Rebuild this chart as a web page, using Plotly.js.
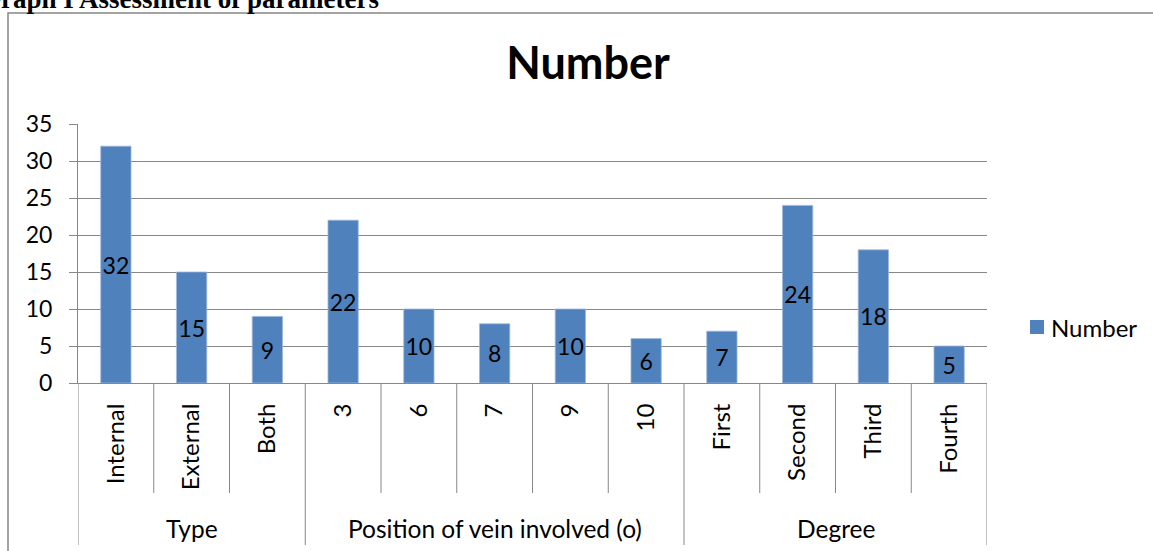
<!DOCTYPE html>
<html>
<head>
<meta charset="utf-8">
<script src="https://cdn.plot.ly/plotly-3.0.1.min.js"></script>
<style>
  html, body { margin: 0; padding: 0; background: #fff; }
  #chart { width: 1153px; height: 551px; }
</style>
</head>
<body>
<div id="chart"></div>
<script>
// ---- data ----
const categories = ["Internal", "External", "Both", "3", "6", "7", "9", "10", "First", "Second", "Third", "Fourth"];
const values = [32, 15, 9, 22, 10, 8, 10, 6, 7, 24, 18, 5];
const groupNames = ["Type", "Position of vein involved (o)", "Degree"];
const groupSizes = [3, 5, 4];
const seriesName = "Number";
const chartTitle = "Number";
const heading = "Graph I Assessment of parameters";

// ---- geometry helpers (pixels -> paper) ----
const W = 1153, H = 551;
const M = { l: 78, r: 166, t: 124, b: 168 };
const PW = W - M.l - M.r, PH = H - M.t - M.b;
const px = x => (x - M.l) / PW;
const py = y => (H - M.b - y) / PH;

const FONT = "Lato, 'Open Sans', sans-serif";
const GRAY = "#878787";
const BLUE = "#4F81BD";

const shapes = [];
const annotations = [];

// category separators
const groupEdges = [0];
groupSizes.forEach(s => groupEdges.push(groupEdges[groupEdges.length - 1] + s));
for (let i = 0; i <= categories.length; i++) {
  const isGroupEdge = groupEdges.includes(i);
  shapes.push({
    type: "line", xref: "x", yref: "paper",
    x0: i - 0.5, x1: i - 0.5, y0: 0, y1: isGroupEdge ? py(545) : py(493),
    line: { color: GRAY, width: 1 }
  });
}
// group labels
for (let g = 0; g < groupNames.length; g++) {
  const c = (groupEdges[g] + groupEdges[g + 1] - 1) / 2;
  annotations.push({
    xref: "x", yref: "paper", x: c, y: py(528),
    text: groupNames[g], showarrow: false, xanchor: "center", yanchor: "middle",
    font: { family: FONT, size: 24.5, color: "#000" }
  });
}
// outer border (chart area frame)
shapes.push({
  type: "path", xref: "paper", yref: "paper",
  path: `M ${px(8)} ${py(560)} L ${px(8)} ${py(13)} L ${px(1160)} ${py(13)}`,
  line: { color: GRAY, width: 1.5 }
});
// legend (drawn manually to keep plot area fixed)
shapes.push({
  type: "rect", xref: "paper", yref: "paper",
  x0: px(1030), x1: px(1044), y0: py(334), y1: py(320),
  fillcolor: BLUE, line: { width: 0 }
});
annotations.push({
  xref: "paper", yref: "paper", x: px(1049), y: py(327),
  text: seriesName, showarrow: false, xanchor: "left", yanchor: "middle",
  font: { family: FONT, size: 24, color: "#000" }
});
// document heading (cut off at top)
annotations.push({
  xref: "paper", yref: "paper", x: px(381), y: py(16),
  text: "<b>" + heading + "</b>", showarrow: false, xanchor: "right", yanchor: "bottom",
  font: { family: "'Liberation Serif', 'Times New Roman', serif", size: 27, color: "#000" }
});

const trace = {
  type: "bar",
  name: seriesName,
  x: categories,
  y: values,
  width: 0.4,
  marker: { color: BLUE, line: { color: "#9fb9dc", width: 0.8 } },
  text: values.map(String),
  textposition: "inside",
  insidetextanchor: "middle",
  constraintext: "none",
  textfont: { family: FONT, size: 23, color: "#000" },
  hoverinfo: "x+y"
};

const layout = {
  width: W, height: H,
  margin: M,
  paper_bgcolor: "#fff", plot_bgcolor: "#fff",
  font: { family: FONT, size: 23, color: "#000" },
  title: {
    text: "<b>" + chartTitle + "</b>",
    font: { family: FONT, size: 45, color: "#000" },
    x: px(588), xref: "paper", xanchor: "center",
    y: 1 - 63 / H, yanchor: "middle"
  },
  xaxis: {
    type: "category",
    range: [-0.5, categories.length - 0.5],
    showline: true, linecolor: GRAY, linewidth: 1,
    showgrid: false, zeroline: false,
    ticks: "", tickangle: -90,
    ticklabelstandoff: 10,
    tickfont: { family: FONT, size: 24, color: "#000" },
    automargin: false
  },
  yaxis: {
    range: [0, 35], dtick: 5, tick0: 0,
    showline: true, linecolor: GRAY, linewidth: 1,
    showgrid: true, gridcolor: GRAY, gridwidth: 1,
    zeroline: false,
    ticks: "outside", ticklen: 8, tickcolor: GRAY,
    ticklabelstandoff: 12,
    tickfont: { family: FONT, size: 23, color: "#000" },
    automargin: false
  },
  showlegend: false,
  shapes: shapes,
  annotations: annotations,
  bargap: 0.6
};

Plotly.newPlot("chart", [trace], layout, { staticPlot: true, displayModeBar: false });
</script>
</body>
</html>
